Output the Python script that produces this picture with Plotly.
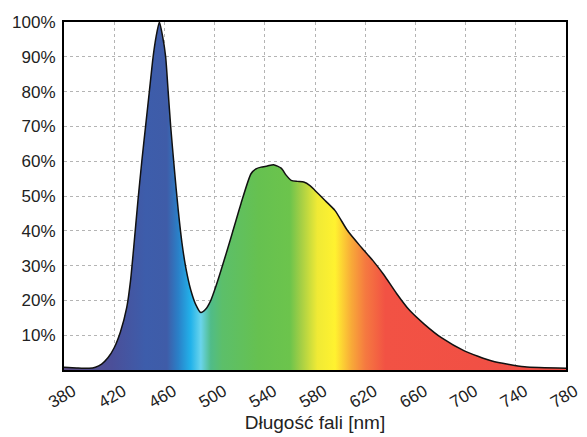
import plotly.graph_objects as go

# Relative spectral power of a white LED (blue pump + phosphor)
wavelength_nm = [380, 390, 400, 405, 410, 415, 420, 425, 430, 433, 436, 439,
                 442, 445, 448, 451, 453.5, 456, 458.5, 461, 463, 465, 468,
                 471, 474, 477, 481, 485, 489, 493, 497, 501, 505, 513, 521,
                 529, 533, 537, 542, 547, 553, 557, 561, 566, 571, 576, 580,
                 588, 596, 606, 617, 626, 635, 645, 655, 667, 681, 699, 721,
                 747, 780]
intensity_pct = [0.8, 0.6, 0.5, 0.8, 1.7, 3.5, 6.4, 11, 18, 25.6, 37, 49,
                 60, 70, 80, 90, 96, 100, 96, 90, 80, 70, 57.5,
                 46, 36.5, 29.5, 23, 18.8, 16.5, 17.5, 20, 24, 28.5, 38, 47.8,
                 56.4, 57.8, 58.3, 58.6, 59, 58, 56, 54.5, 54.2, 54, 53, 51.6,
                 48.7, 45.8, 40, 35.2, 31.5, 27.3, 22, 17.3, 13.2, 9.2, 5.5,
                 2.6, 0.9, 0.5]

x_ticks = [380, 420, 460, 500, 540, 580, 620, 660, 700, 740, 780]
y_ticks = [10, 20, 30, 40, 50, 60, 70, 80, 90, 100]

# Visible-spectrum colours, keyed by wavelength
spectrum_stops = [
    (380, "#5e4e85"), (418, "#4b4f99"), (445, "#3d5dab"), (462, "#3f5ca8"),
    (471, "#2a80c8"), (481, "#22b2ea"), (489, "#6ad4ec"), (497, "#50bc88"),
    (506, "#5cbf6a"), (535, "#66c150"), (560, "#6cc44c"), (569, "#a5cf45"),
    (582, "#f0ea35"), (596, "#fff230"), (609, "#f8aa38"), (620, "#f57a40"),
    (636, "#f25244"), (780, "#f04e45"),
]
lo, hi = x_ticks[0], x_ticks[-1]
colorscale = [[(w - lo) / (hi - lo), c] for w, c in spectrum_stops]

font_family = "Liberation Sans, Arial, sans-serif"

fig = go.Figure()
fig.add_trace(go.Scatter(
    x=wavelength_nm,
    y=intensity_pct,
    mode="lines",
    line=dict(color="#111111", width=1.5, shape="spline", smoothing=0.6),
    fill="tozeroy",
    fillgradient=dict(type="horizontal", colorscale=colorscale,
                      start=lo, stop=hi),
    hoverinfo="x+y",
    showlegend=False,
))

fig.update_layout(
    width=587, height=437,
    margin=dict(l=64, r=21, t=22, b=67),
    paper_bgcolor="white",
    plot_bgcolor="white",
    font=dict(family=font_family, size=17, color="#222222"),
    xaxis=dict(
        range=[lo, hi],
        automargin=False,
        tickvals=x_ticks,
        ticktext=[str(v) for v in x_ticks],
        tickangle=-30,
        ticklabelshift=9,
        ticklabelstandoff=3,
        showgrid=True, gridcolor="#b4b4b4", gridwidth=1, griddash="dot",
        showline=True, linecolor="black", linewidth=2, mirror=True,
        ticks="", zeroline=False,
        title=dict(text="Długość fali [nm]", standoff=4,
                   font=dict(size=19)),
    ),
    yaxis=dict(
        range=[0, 100],
        automargin=False,
        tickvals=y_ticks,
        ticktext=[f"{v}%" for v in y_ticks],
        ticklabelstandoff=3,
        showgrid=True, gridcolor="#b4b4b4", gridwidth=1, griddash="dot",
        showline=True, linecolor="black", linewidth=2, mirror=True,
        ticks="", zeroline=False,
    ),
)

fig.write_html("out.html")
